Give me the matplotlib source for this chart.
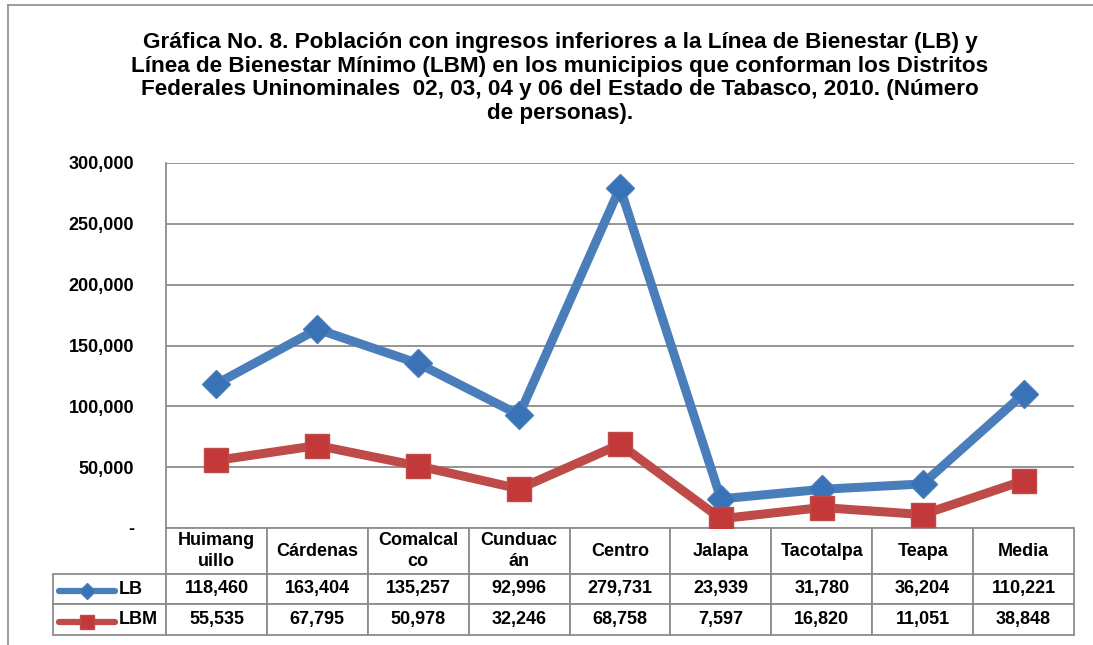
import matplotlib
matplotlib.use("Agg")
import matplotlib.pyplot as plt
from matplotlib.lines import Line2D
from matplotlib.table import Table
from matplotlib.ticker import FuncFormatter

# datos de la grafica
municipios = ["Huimang\nuillo", "Cárdenas", "Comalcal\nco", "Cunduac\nán", "Centro",
              "Jalapa", "Tacotalpa", "Teapa", "Media"]
lb = [118460, 163404, 135257, 92996, 279731, 23939, 31780, 36204, 110221]
lbm = [55535, 67795, 50978, 32246, 68758, 7597, 16820, 11051, 38848]
series = ["LB", "LBM"]

azul = "#4a7ebb"
azul_m = "#3a72b8"
rojo = "#be4b48"
rojo_m = "#c3393a"
gris = "#8c8c8c"

plt.rcParams["font.family"] = ["Liberation Sans", "DejaVu Sans"]
plt.rcParams["font.weight"] = "bold"

W, H = 1093, 645
fig = plt.figure(figsize=(W / 100, H / 100), dpi=100)

# marco exterior
fig.add_artist(Line2D([8 / W, 8 / W], [0, 1 - 5 / H], color=gris, lw=1.2))
fig.add_artist(Line2D([8 / W, 1], [1 - 5 / H, 1 - 5 / H], color=gris, lw=1.2))

titulo = ("Gráfica No. 8. Población con ingresos inferiores a la Línea de Bienestar (LB) y\n"
          "Línea de Bienestar Mínimo (LBM) en los municipios que conforman los Distritos\n"
          "Federales Uninominales  02, 03, 04 y 06 del Estado de Tabasco, 2010. (Número\n"
          "de personas).")
fig.text(560 / W, 1 - 78 / H, titulo, ha="center", va="center", fontsize=16.2,
         fontweight="bold", linespacing=1.18)

x0, x1, y0, y1 = 166, 1074, 163, 528
ax = fig.add_axes([x0 / W, 1 - y1 / H, (x1 - x0) / W, (y1 - y0) / H])

x = list(range(len(municipios)))
ax.plot(x, lb, color=azul, lw=6.5, marker="D", markersize=14,
        markerfacecolor=azul_m, markeredgecolor=azul, zorder=3)
ax.plot(x, lbm, color=rojo, lw=6.5, marker="s", markersize=17,
        markerfacecolor=rojo_m, markeredgecolor=rojo, zorder=3)

ax.set_xlim(-0.5, len(municipios) - 0.5)
ax.set_ylim(0, 300000)
ax.set_yticks(range(0, 300001, 50000))
ax.yaxis.set_major_formatter(FuncFormatter(lambda v, p: f"{int(v):,}" if v else "-"))
ax.tick_params(axis="y", length=0, pad=23, labelsize=13)
ax.set_xticks([])
ax.grid(axis="y", color=gris, lw=1.3)
ax.set_axisbelow(True)
for s in ["top", "right", "bottom"]:
    ax.spines[s].set_visible(False)
ax.spines["left"].set_color(gris)
ax.spines["left"].set_linewidth(1.3)

# tabla de datos (unidades en fraccion de ejes)
ancho = x1 - x0
alto = y1 - y0
lab_w = (166 - 53) / ancho
col_w = 1 / len(municipios)
alturas = [46 / alto, 30 / alto, 31 / alto]
filas = [lb, lbm]

tabla = Table(ax, bbox=[0, -sum(alturas), 1, sum(alturas)])
tabla.auto_set_font_size(False)
for j, m in enumerate(municipios):
    tabla.add_cell(0, j, width=col_w, height=alturas[0], text=m, loc="center")
for i, (nombre, vals) in enumerate(zip(series, filas)):
    celda = tabla.add_cell(i + 1, -1, width=lab_w, height=alturas[i + 1],
                           text=nombre, loc="left")
    celda.PAD = 0.58
    for j, v in enumerate(vals):
        tabla.add_cell(i + 1, j, width=col_w, height=alturas[i + 1],
                       text=f"{v:,}", loc="center")
for cell in tabla.get_celld().values():
    cell.set_edgecolor(gris)
    cell.set_linewidth(1.3)
    cell.get_text().set_fontsize(13)
    cell.get_text().set_fontweight("bold")
    cell.get_text().set_linespacing(1.3)
ax.add_table(tabla)

# muestras de leyenda en la tabla
for i, (col, mcol, mk, ms) in enumerate([(azul, azul_m, "D", 8), (rojo, rojo_m, "s", 10)]):
    yc = 1 - (591 + i * 30.5) / H
    fig.add_artist(Line2D([59 / W, 115 / W], [yc, yc], color=col, lw=4.5,
                          solid_capstyle="round"))
    fig.add_artist(Line2D([87 / W], [yc], color=col, marker=mk, markersize=ms,
                          markerfacecolor=mcol, markeredgecolor=col))

fig.savefig("out.png", dpi=100)
